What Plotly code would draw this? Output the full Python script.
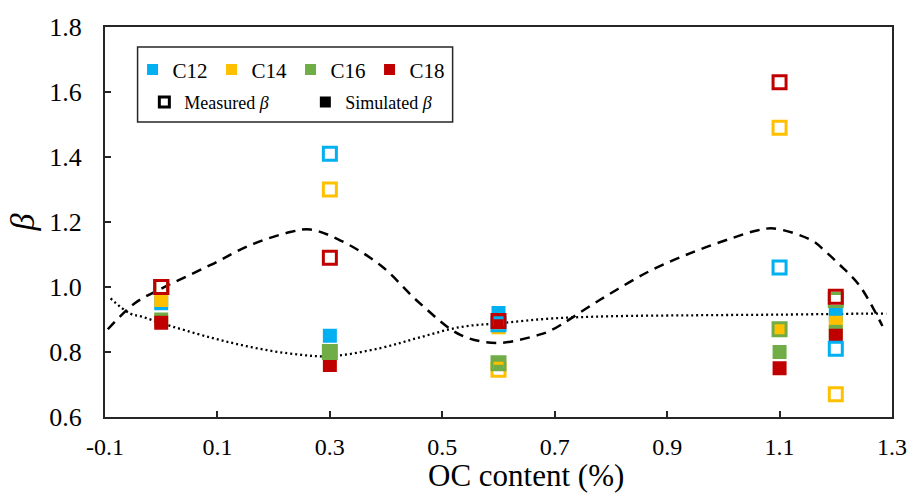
import plotly.graph_objects as go

# ---------------- data ----------------
oc = [0.0, 0.3, 0.6, 1.1, 1.2]
series = ["C12", "C14", "C16", "C18"]
colors = ["#00B0F0", "#FFC000", "#70AD47", "#C00000"]

measured = {
    "C12": [1.00, 1.41, 0.885, 1.06, 0.81],
    "C14": [1.00, 1.30, 0.745, 1.49, 0.67],
    "C16": [1.00, 0.80, 0.765, 0.87, 0.96],
    "C18": [1.00, 1.09, 0.895, 1.63, 0.97],
}
simulated = {
    "C12": [0.95, 0.85, 0.92, 0.87, 0.915],
    "C14": [0.96, 0.80, 0.876, 0.87, 0.89],
    "C16": [0.90, 0.795, 0.765, 0.80, 0.862],
    "C18": [0.89, 0.76, 0.895, 0.75, 0.85],
}

dash_x = [-0.095, -0.047, 0.0, 0.087, 0.16, 0.2295, 0.265, 0.319, 0.39, 0.46, 0.533,
          0.599, 0.67, 0.694, 0.78, 0.87, 0.95, 1.015, 1.06, 1.09, 1.158, 1.181, 1.206, 1.242, 1.283]
dash_y = [0.87, 0.95, 0.995, 1.067, 1.13, 1.169, 1.177, 1.143, 1.067, 0.95, 0.852,
          0.828, 0.852, 0.867, 0.96, 1.05, 1.11, 1.15, 1.174, 1.18, 1.143, 1.11, 1.07, 1.005, 0.88]

dot_x = [-0.09, -0.056, -0.033, 0.0, 0.087, 0.16, 0.23, 0.3, 0.39, 0.46, 0.533,
         0.605, 0.694, 0.8, 0.95, 1.1, 1.25, 1.29]
dot_y = [0.965, 0.919, 0.908, 0.889, 0.845, 0.815, 0.795, 0.787, 0.812, 0.845, 0.877,
         0.889, 0.903, 0.91, 0.913, 0.915, 0.918, 0.918]

x_ticks = [-0.1, 0.1, 0.3, 0.5, 0.7, 0.9, 1.1, 1.3]
y_ticks = [0.6, 0.8, 1.0, 1.2, 1.4, 1.6, 1.8]

FONT = "Liberation Serif"

fig = go.Figure()

# curves
fig.add_trace(go.Scatter(x=dash_x, y=dash_y, mode="lines", showlegend=False,
                         line=dict(color="black", width=2.5, dash="10px,7px", shape="spline", smoothing=1.0)))
fig.add_trace(go.Scatter(x=dot_x, y=dot_y, mode="lines", showlegend=False,
                         line=dict(color="black", width=2.3, dash="2px,3px", shape="spline", smoothing=1.0)))

# simulated (filled) and measured (open) markers per series
for name, col in zip(series, colors):
    fig.add_trace(go.Scatter(x=oc, y=simulated[name], mode="markers", showlegend=False,
                             marker=dict(symbol="square", size=14, color=col, line=dict(width=0))))
for name, col in zip(series, colors):
    fig.add_trace(go.Scatter(x=oc, y=measured[name], mode="markers", showlegend=False,
                             marker=dict(symbol="square-open", size=13, color=col,
                                         line=dict(width=3, color=col))))

# legend entries
for name, col in zip(series, colors):
    fig.add_trace(go.Scatter(x=[None], y=[None], mode="markers", name=name, legend="legend",
                             marker=dict(symbol="square", size=11, color=col)))
fig.add_trace(go.Scatter(x=[None], y=[None], mode="markers", name="Measured <i>β</i>", legend="legend2",
                         marker=dict(symbol="square-open", size=10, color="black", line=dict(width=3, color="black"))))
fig.add_trace(go.Scatter(x=[None], y=[None], mode="markers", name="Simulated <i>β</i>", legend="legend2",
                         marker=dict(symbol="square", size=11, color="black")))

fig.update_layout(
    width=910, height=498,
    margin=dict(l=105, r=18, t=27, b=81),
    paper_bgcolor="white", plot_bgcolor="white",
    font=dict(family=FONT, color="black"),
    xaxis=dict(range=[-0.1, 1.3], tickvals=x_ticks, ticktext=[f"{v:.1f}" for v in x_ticks],
               showgrid=False, zeroline=False, showline=True, mirror=True, linecolor="#262626",
               linewidth=2, ticks="inside", ticklen=6, tickwidth=1.5, tickcolor="#262626",
               tickfont=dict(size=24, family=FONT), ticklabelstandoff=7, automargin=False),
    yaxis=dict(range=[0.6, 1.8], tickvals=y_ticks, ticktext=[f"{v:.1f}" for v in y_ticks],
               showgrid=False, zeroline=False, showline=True, mirror=True, linecolor="#262626",
               linewidth=2, ticks="inside", ticklen=6, tickwidth=1.5, tickcolor="#262626",
               tickfont=dict(size=26, family=FONT), ticklabelstandoff=16, automargin=False,
               title=dict(text="<i>β</i>", font=dict(size=34, family=FONT), standoff=4)),
    legend=dict(orientation="h", x=0.035, y=0.89, xanchor="left", yanchor="middle",
                bgcolor="rgba(0,0,0,0)", borderwidth=0, font=dict(size=21, family=FONT),
                entrywidth=34, entrywidthmode="pixels", itemsizing="trace", tracegroupgap=0),
    legend2=dict(orientation="h", x=0.05, y=0.807, xanchor="left", yanchor="middle",
                 bgcolor="rgba(0,0,0,0)", borderwidth=0, font=dict(size=18, family=FONT),
                 entrywidth=116, entrywidthmode="pixels", itemsizing="trace"),
    shapes=[dict(type="rect", xref="paper", yref="paper", x0=0.0414, x1=0.4417, y0=0.7564, y1=0.9487,
                 line=dict(color="#262626", width=1.5), fillcolor="white", layer="below")],
    annotations=[dict(text="OC content (%)", xref="paper", yref="paper", x=0.535, y=-0.2,
                      xanchor="center", yanchor="bottom", showarrow=False,
                      font=dict(size=31, family=FONT))],
)

fig.write_html("out.html")
